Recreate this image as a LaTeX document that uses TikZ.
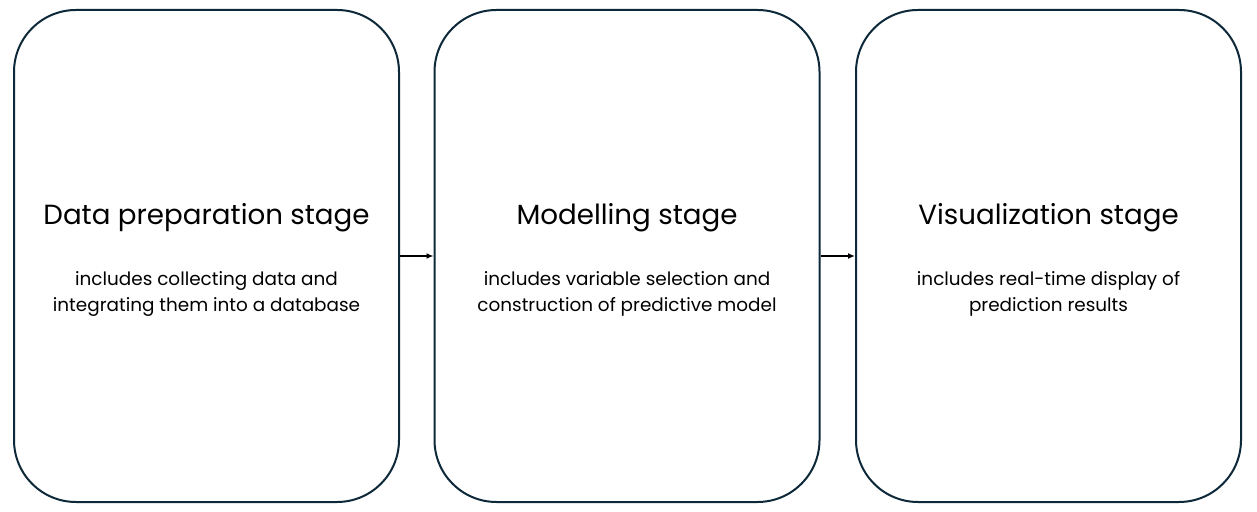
\documentclass[tikz,border=0pt]{standalone}
\usepackage{fontspec}
\setmainfont{Poppins}
\usetikzlibrary{arrows.meta}
\definecolor{boxline}{HTML}{0D2838}
\begin{document}
\begin{tikzpicture}[x=1pt,y=1pt,
  stagebox/.style={draw=boxline, line width=2pt, rounded corners=62pt, minimum width=385pt, minimum height=492pt, inner sep=0pt},
  title/.style={font=\fontsize{27.7}{32}\selectfont, anchor=base},
  desc/.style={font=\fontsize{18.4}{26}\selectfont, align=center, anchor=north},
  flow/.style={-{Latex[length=7pt,width=6pt]}, line width=1.5pt, black}]
\useasboundingbox (0,0) rectangle (1257,511);
\node[stagebox] (b1) at (206.5,255) {};
\node[stagebox] (b2) at (627,255) {};
\node[stagebox] (b3) at (1048.5,255) {};
\node[title] (t1) at (206.5,286) {Data preparation stage};
\node[title] (t2) at (627,286) {Modelling stage};
\node[title] (t3) at (1048.5,286) {Visualization stage};
\node[desc] (d1) at (206.5,243.5) {includes collecting data and\\integrating them into a database};
\node[desc] (d2) at (627,243.5) {includes variable selection and\\construction of predictive model};
\node[desc] (d3) at (1048.5,243.5) {includes real-time display of\\prediction results};
\draw[flow] (b1.east) -- (b2.west);
\draw[flow] (b2.east) -- (b3.west);
\end{tikzpicture}
\end{document}
